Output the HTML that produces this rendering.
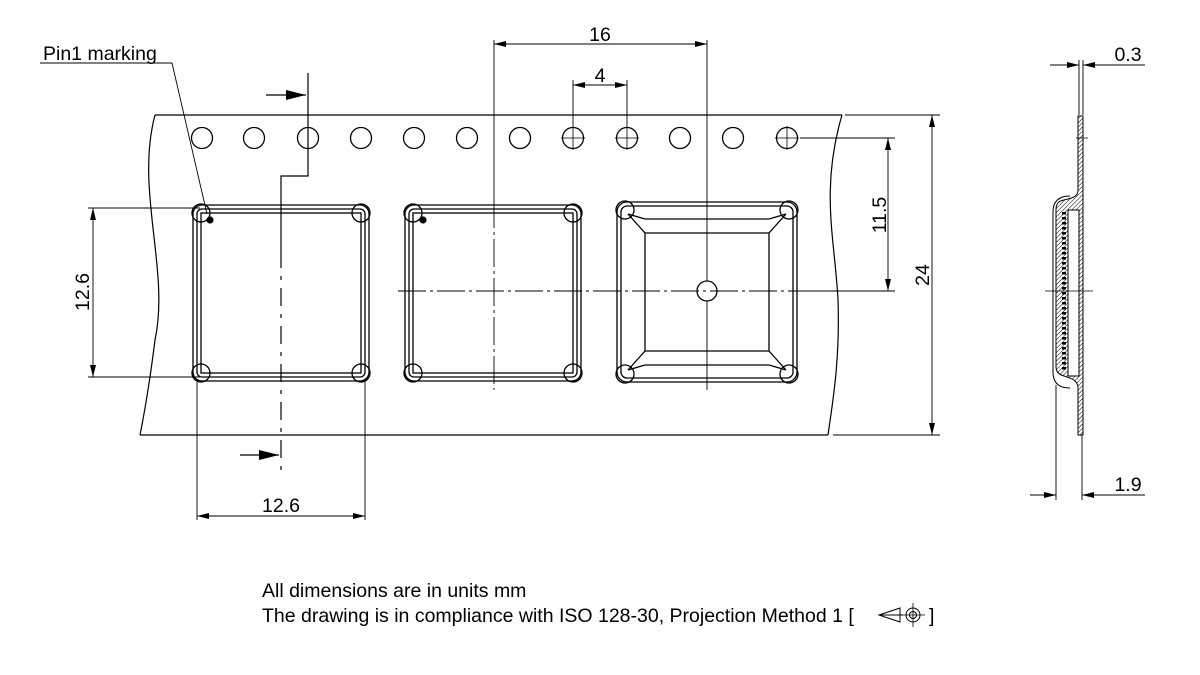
<!DOCTYPE html>
<html><head><meta charset="utf-8"><style>
body{margin:0;background:#fff;}
svg{display:block;font-family:"Liberation Sans",sans-serif;}
</style></head><body>
<svg width="1200" height="675" viewBox="0 0 1200 675" xmlns="http://www.w3.org/2000/svg">
<defs>
<marker id="a" markerWidth="12" markerHeight="6" refX="12" refY="3" orient="auto-start-reverse" markerUnits="userSpaceOnUse"><path d="M0,0 L12,3 L0,6Z" fill="#000"/></marker>
<marker id="b" markerWidth="20" markerHeight="10" refX="20" refY="5" orient="auto" markerUnits="userSpaceOnUse"><path d="M0,0 L20,5 L0,10Z" fill="#000"/></marker>
<pattern id="h" width="3" height="3" patternUnits="userSpaceOnUse" patternTransform="rotate(45)"><line x1="0" y1="0" x2="0" y2="3" stroke="#000" stroke-width="1"/></pattern>
</defs>
<g fill="none" stroke="#000" stroke-width="1.2">
<path d="M155,115 L842,115"/>
<path d="M140,435 L828,435"/>
<path d="M155,115 C135,190 170,270 155,340 C150,380 145,410 140,435"/>
<path d="M842,115 C820,190 835,240 838,300 C840,360 833,400 828,435"/>
<g stroke-width="1.3">
<circle cx="202" cy="138" r="10.5"/><circle cx="254" cy="138" r="10.5"/><circle cx="308" cy="138" r="10.5"/><circle cx="361" cy="138" r="10.5"/><circle cx="414" cy="138" r="10.5"/><circle cx="467" cy="138" r="10.5"/><circle cx="520" cy="138" r="10.5"/><circle cx="573" cy="138" r="10.5"/><circle cx="627" cy="138" r="10.5"/><circle cx="680" cy="138" r="10.5"/><circle cx="733" cy="138" r="10.5"/><circle cx="787" cy="138" r="10.5"/>
</g>
<path d="M561,138h24M573,126v24M615,138h24M627,126v24M775,138h24M787,126v24" stroke-width="0.8"/>
<g stroke-width="1.3">
<rect x="193" y="205" width="176" height="176" rx="9"/>
<rect x="197" y="209" width="168" height="168" rx="5"/>
<rect x="201" y="213" width="160" height="160"/>
<circle cx="201" cy="213" r="9"/><circle cx="361" cy="213" r="9"/><circle cx="201" cy="373" r="9"/><circle cx="361" cy="373" r="9"/>
</g>
<circle cx="210" cy="220" r="3" fill="#000"/>
<g stroke-width="1.3">
<rect x="405" y="205" width="176" height="176" rx="9"/>
<rect x="409" y="209" width="168" height="168" rx="5"/>
<rect x="413" y="213" width="160" height="160"/>
<circle cx="413" cy="213" r="9"/><circle cx="573" cy="213" r="9"/><circle cx="413" cy="373" r="9"/><circle cx="573" cy="373" r="9"/>
</g>
<circle cx="423" cy="220" r="3" fill="#000"/>
<g stroke-width="1.3">
<rect x="617" y="202" width="180" height="180" rx="10"/>
<rect x="621" y="206" width="172" height="172" rx="6"/>
<path d="M628,214 L645,233 L645,351 L628,370 M786,214 L769,233 L769,351 L786,370 M628,214 L645,219 L769,219 L786,214 M645,233 L769,233 M645,351 L769,351 M628,370 L645,365 L769,365 L786,370"/>
<circle cx="625" cy="210" r="9"/><circle cx="789" cy="210" r="9"/><circle cx="625" cy="374" r="9"/><circle cx="789" cy="374" r="9"/>
<circle cx="707" cy="291" r="10"/>
</g>
<g stroke-width="0.9" stroke-dasharray="28,4,3,4">
<path d="M398,291 H800"/>
<path d="M494,200 V390"/>
</g>
<path d="M800,291 H895" stroke-width="0.9"/>
<path d="M707,40 V281 M707,301 V390" stroke-width="0.9"/>
<path d="M494,40 V200" stroke-width="0.9"/>
<path d="M494,44 H707" stroke-width="0.9" marker-start="url(#a)" marker-end="url(#a)"/>
<path d="M573,80 V126 M627,80 V126" stroke-width="0.9"/>
<path d="M573,85 H627" stroke-width="0.9" marker-start="url(#a)" marker-end="url(#a)"/>
<path d="M800,138 H895 M845,115 H940 M833,435 H940" stroke-width="0.9"/>
<path d="M888,138 V291" stroke-width="0.9" marker-start="url(#a)" marker-end="url(#a)"/>
<path d="M932,115 V435" stroke-width="0.9" marker-start="url(#a)" marker-end="url(#a)"/>
<path d="M88,208 H200 M88,377 H200" stroke-width="0.9"/>
<path d="M93,208 V377" stroke-width="0.9" marker-start="url(#a)" marker-end="url(#a)"/>
<path d="M197,380 V520 M365,380 V520" stroke-width="0.9"/>
<path d="M197,516 H365" stroke-width="0.9" marker-start="url(#a)" marker-end="url(#a)"/>
<path d="M308,73 V176 H281 V250" stroke-width="1.2"/>
<path d="M281,250 V474" stroke-width="1.2" stroke-dasharray="18,8,4,8"/>
<path d="M266,95 H306" stroke-width="1.2" marker-end="url(#b)"/>
<path d="M240,455 H279" stroke-width="1.2" marker-end="url(#b)"/>
<path d="M40,63 H172 L207,214" stroke-width="0.9"/>
<path d="M1079,60 V115 M1083,60 V115" stroke-width="0.9"/>
<path d="M1050,65 H1079" stroke-width="0.9" marker-end="url(#a)"/>
<path d="M1083,65 H1145" stroke-width="0.9" marker-start="url(#a)"/>
<path d="M1056,385 V500 M1082,435 V500" stroke-width="0.9"/>
<path d="M1030,495 H1056" stroke-width="0.9" marker-end="url(#a)"/>
<path d="M1082,495 H1145" stroke-width="0.9" marker-start="url(#a)"/>
<path d="M1078,116 H1083 V435 H1078 V388 C1078,380 1070,378 1064,376 C1058,374 1056,372 1056,366 V210 C1056,204 1058,201 1064,200 C1070,198 1078,198 1078,190 Z" fill="url(#h)" stroke-width="1"/>
<path d="M1053,212 C1053,200 1060,196 1070,196 M1053,372 C1053,384 1060,388 1070,388 M1053,212 V372" stroke-width="1"/>
<rect x="1068" y="210" width="11" height="166" fill="#fff" stroke-width="1"/>
<path d="M1064,212 V372" stroke-width="4" stroke-dasharray="2.5,2.5" stroke="#000"/>
<path d="M1045,291 H1093 M1076,138 H1088" stroke-width="0.8"/>
</g>
<g font-size="19.5" fill="#000">
<text x="43" y="60">Pin1 marking</text>
<text x="600" y="41" text-anchor="middle">16</text>
<text x="600" y="82" text-anchor="middle">4</text>
<text x="281" y="512" text-anchor="middle">12.6</text>
<text x="1128" y="61" text-anchor="middle">0.3</text>
<text x="1128" y="491" text-anchor="middle">1.9</text>
<text transform="translate(89,292) rotate(-90)" text-anchor="middle">12.6</text>
<text transform="translate(886,215) rotate(-90)" text-anchor="middle">11.5</text>
<text transform="translate(929,275) rotate(-90)" text-anchor="middle">24</text>
<text x="262" y="597">All dimensions are in units mm</text>
<text x="262" y="622">The drawing is in compliance with ISO 128-30, Projection Method 1 [</text>
<text x="929" y="622">]</text>
</g>
<g fill="none" stroke="#000" stroke-width="1">
<path d="M879,615 L900,608 V622 Z M879,615 H903"/>
<circle cx="913" cy="615" r="7"/><circle cx="913" cy="615" r="3.5"/>
<path d="M902,615 H925 M913,603 V627" stroke-width="0.8"/>
</g>
</svg>
</body></html>
